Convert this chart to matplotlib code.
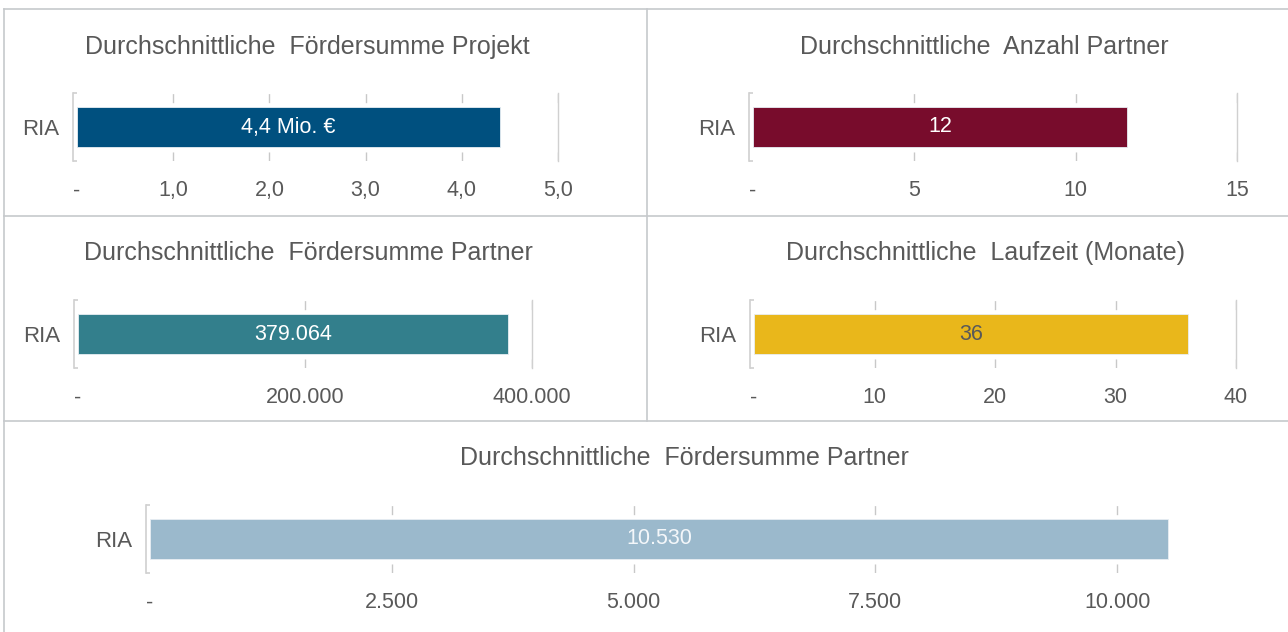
import matplotlib.pyplot as plt
from matplotlib.lines import Line2D

plt.rcParams['font.family'] = ['Liberation Sans', 'DejaVu Sans']

category = 'RIA'
titles = ['Durchschnittliche  Fördersumme Projekt',
          'Durchschnittliche  Anzahl Partner',
          'Durchschnittliche  Fördersumme Partner',
          'Durchschnittliche  Laufzeit (Monate)',
          'Durchschnittliche  Fördersumme Partner']
values = [4.4, 11.6, 379064, 36, 10530]
value_labels = ['4,4 Mio. €', '12', '379.064', '36', '10.530']
colors = ['#00507F', '#780C2C', '#337F8C', '#E9B71B', '#9BB9CC']
label_colors = ['white', 'white', 'white', '#595959', '#F4F7FA']
tick_values = [[0, 1, 2, 3, 4, 5],
               [0, 5, 10, 15],
               [0, 200000, 400000],
               [0, 10, 20, 30, 40],
               [0, 2500, 5000, 7500, 10000]]
tick_labels = [['-', '1,0', '2,0', '3,0', '4,0', '5,0'],
               ['-', '5', '10', '15'],
               ['-', '200.000', '400.000'],
               ['-', '10', '20', '30', '40'],
               ['-', '2.500', '5.000', '7.500', '10.000']]
x_max = [5, 15, 400000, 40, 11500]

W, H = 1288, 632
# axes boxes in pixels: left, top, right, bottom
boxes = [(77, 93, 558, 161), (753, 93, 1237, 161),
         (78, 300, 532, 368), (754, 300, 1236, 368),
         (150, 505, 150 + 11500 * 241.8 / 2500, 573)]
title_pos = [(307, 47), (984, 47), (308, 253), (986, 253), (684, 458)]

grey = '#595959'
line_grey = '#D0D0D0'

fig = plt.figure(figsize=(W / 100, H / 100), dpi=100)

for i in range(5):
    l, t, r, b = boxes[i]
    ax = fig.add_axes([l / W, 1 - b / H, (r - l) / W, (b - t) / H])
    bars = ax.barh([0], [values[i]], height=0.6, color=colors[i],
                   edgecolor='#E8EEF3', linewidth=0.6, zorder=3)
    ax.bar_label(bars, labels=[value_labels[i]], label_type='center',
                 color=label_colors[i], fontsize=15.5)
    ax.set_xlim(0, x_max[i])
    ax.set_ylim(-0.5, 0.5)

    # dashed gridlines, only short dashes show above and below the bar
    ax.vlines(tick_values[i][1:], -0.5, 0.5, colors='#C8C8C8', linewidth=1.0,
              linestyles=(0, (6.5, 35.5)), zorder=1)

    ax.set_xticks(tick_values[i])
    ax.set_xticklabels(tick_labels[i])
    ax.tick_params(axis='x', length=0, pad=14, labelsize=15.5, labelcolor=grey)
    ax.set_yticks([0])
    ax.set_yticklabels([category])
    ax.tick_params(axis='y', length=0, pad=10, labelsize=16, labelcolor=grey)
    ax.set_yticks([-0.5, 0.5], minor=True)
    ax.tick_params(axis='y', which='minor', direction='in', length=3,
                   width=1.2, color=line_grey)

    ax.spines['top'].set_visible(False)
    ax.spines['bottom'].set_visible(False)
    ax.spines['left'].set_position(('outward', 3))
    ax.spines['left'].set_color(line_grey)
    ax.spines['left'].set_linewidth(1.2)
    if i < 4:
        ax.spines['right'].set_color(line_grey)
        ax.spines['right'].set_linewidth(1.0)
    else:
        ax.spines['right'].set_visible(False)
    ax.patch.set_alpha(0)

    tx, ty = title_pos[i]
    fig.text(tx / W, 1 - ty / H, titles[i], ha='center', va='center',
             fontsize=18, color=grey)

# panel frame lines
frame = '#C6C9CC'
for y in [9, 216, 421]:
    fig.add_artist(Line2D([4 / W, 1], [1 - y / H, 1 - y / H], color=frame, lw=1.2))
fig.add_artist(Line2D([4 / W, 4 / W], [0, 1 - 9 / H], color=frame, lw=1.2))
fig.add_artist(Line2D([647 / W, 647 / W], [1 - 421 / H, 1 - 9 / H], color=frame, lw=1.2))

plt.savefig('out.png', dpi=100)
